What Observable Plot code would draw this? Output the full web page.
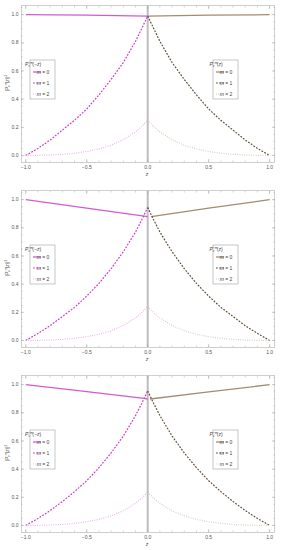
<!DOCTYPE html>
<html><head><meta charset="utf-8">
<script src="https://cdn.jsdelivr.net/npm/d3@7"></script>
<script src="https://cdn.jsdelivr.net/npm/@observablehq/plot@0.6"></script>
<style>html,body{margin:0;padding:0;background:#fff;overflow:hidden;} svg{display:block;}</style>
</head><body><div id="c"></div>
<script>
// ---- data ----
const zLeft  = [-1, -0.9, -0.8, -0.7, -0.6, -0.5, -0.4, -0.3, -0.2, -0.1, -0.05, 0];
const zRight = [0, 0.05, 0.1, 0.2, 0.3, 0.4, 0.5, 0.6, 0.7, 0.8, 0.9, 1];
const xTicks = [-1, -0.5, 0, 0.5, 1];
const yTicks = [0, 0.2, 0.4, 0.6, 0.8, 1.0];
const xMinor = [-1,-0.9,-0.8,-0.7,-0.6,-0.5,-0.4,-0.3,-0.2,-0.1,0,0.1,0.2,0.3,0.4,0.5,0.6,0.7,0.8,0.9,1];
const yMinor = [0,0.05,0.1,0.15,0.2,0.25,0.3,0.35,0.4,0.45,0.5,0.55,0.6,0.65,0.7,0.75,0.8,0.85,0.9,0.95,1,1.05];
const legendLabels = ["m = 0", "m = 1", "m = 2"];

// panel 1
const p1_m0_zL = [-1, -0.5, 0];     const p1_m0_L = [1.0, 0.996, 0.99];
const p1_m0_zR = [0, 0.5, 1];       const p1_m0_R = [0.99, 0.996, 1.0];
const p1_m1_L = [0, 0.05, 0.11, 0.18, 0.25, 0.33, 0.43, 0.54, 0.66, 0.81, 0.90, 0.99];
const p1_m1_R = [0.99, 0.90, 0.81, 0.66, 0.54, 0.43, 0.33, 0.25, 0.18, 0.11, 0.05, 0];
const p1_m2_L = [0, 0.001, 0.003, 0.008, 0.016, 0.028, 0.046, 0.072, 0.111, 0.167, 0.205, 0.25];
const p1_m2_R = [0.25, 0.205, 0.167, 0.111, 0.072, 0.046, 0.028, 0.016, 0.008, 0.003, 0.001, 0];
// panel 2
const p2_m0_zL = [-1, -0.5, 0];     const p2_m0_L = [1.0, 0.94, 0.88];
const p2_m0_zR = [0.03, 0.5, 1];    const p2_m0_R = [0.88, 0.94, 1.0];
const p2_m1_L = [0, 0.05, 0.105, 0.17, 0.235, 0.315, 0.405, 0.51, 0.63, 0.77, 0.855, 0.945];
const p2_m1_R = [0.945, 0.855, 0.77, 0.63, 0.51, 0.405, 0.315, 0.235, 0.17, 0.105, 0.05, 0];
const p2_m2_L = [0, 0.001, 0.003, 0.0075, 0.015, 0.027, 0.044, 0.069, 0.107, 0.16, 0.197, 0.24];
const p2_m2_R = [0.24, 0.197, 0.16, 0.107, 0.069, 0.044, 0.027, 0.015, 0.0075, 0.003, 0.001, 0];
// panel 3
const p3_m0_zL = [-1, -0.5, -0.03, 0]; const p3_m0_L = [1.0, 0.95, 0.902, 0.898];
const p3_m0_zR = [0.02, 0.5, 1];       const p3_m0_R = [0.898, 0.948, 1.0];
const p3_m1_L = [0, 0.05, 0.106, 0.17, 0.24, 0.318, 0.41, 0.515, 0.635, 0.78, 0.865, 0.955];
const p3_m1_R = [0.955, 0.865, 0.78, 0.635, 0.515, 0.41, 0.318, 0.24, 0.17, 0.106, 0.05, 0];
const p3_m2_L = [0, 0.001, 0.003, 0.0073, 0.015, 0.026, 0.043, 0.068, 0.104, 0.157, 0.193, 0.235];
const p3_m2_R = [0.235, 0.193, 0.157, 0.104, 0.068, 0.043, 0.026, 0.015, 0.0073, 0.003, 0.001, 0];

const leftColors  = ["#d35ad3", "#cc3ccc", "#eaa2ea"];
const rightColors = ["#a48b70", "#5e5038", "#d2c4b4"];
const dashes = [null, "1.8,1.4", "0.8,1.5"];
const widths = [1.3, 1.2, 1.2];

const panelSets = [
  [p1_m0_zL, p1_m0_L, p1_m0_zR, p1_m0_R, p1_m1_L, p1_m1_R, p1_m2_L, p1_m2_R],
  [p2_m0_zL, p2_m0_L, p2_m0_zR, p2_m0_R, p2_m1_L, p2_m1_R, p2_m2_L, p2_m2_R],
  [p3_m0_zL, p3_m0_L, p3_m0_zR, p3_m0_R, p3_m1_L, p3_m1_R, p3_m2_L, p3_m2_R]
];

const fmt = d3.format(".1f");
const FONT = "'Liberation Sans', 'DejaVu Sans', sans-serif";

function line(xs, ys, color, k) {
  return Plot.line(xs, {x: d => d, y: (d, i) => ys[i], stroke: color,
    strokeWidth: widths[k], strokeDasharray: dashes[k], strokeLinecap: "butt", curve: "linear"});
}

function drawPanel(set) {
  const [m0zL, m0L, m0zR, m0R, m1L, m1R, m2L, m2R] = set;
  const tickStroke = "#aaa";
  const plot = Plot.plot({
    width: 281, height: 185,
    marginLeft: 21, marginRight: 7, marginTop: 5, marginBottom: 23,
    style: {fontSize: "5px", fontFamily: FONT, background: "#fff", overflow: "visible"},
    x: {domain: [-1.035, 1.04]},
    y: {domain: [-0.05, 1.065]},
    marks: [
      Plot.ruleX([0], {stroke: "#bdbdbd", strokeWidth: 2}),
      Plot.frame({stroke: "#c4c4c4", strokeWidth: 0.8}),
      Plot.axisX(xMinor, {anchor: "bottom", tickSize: 1.5, dy: -1.5, tickFormat: () => "", stroke: tickStroke, strokeWidth: 0.5, label: null}),
      Plot.axisX(xMinor, {anchor: "top", tickSize: 1.5, dy: 1.5, tickFormat: () => "", stroke: tickStroke, strokeWidth: 0.5, label: null}),
      Plot.axisX(xTicks, {anchor: "bottom", tickSize: 3, dy: -3, tickFormat: () => "", stroke: tickStroke, strokeWidth: 0.6, label: null}),
      Plot.axisX(xTicks, {anchor: "top", tickSize: 3, dy: 3, tickFormat: () => "", stroke: tickStroke, strokeWidth: 0.6, label: null}),
      Plot.axisX(xTicks, {anchor: "bottom", tickSize: 0, tickPadding: 3, tickFormat: fmt, fill: "#555", label: null}),
      Plot.axisY(yMinor, {anchor: "left", tickSize: 1.5, dx: 1.5, tickFormat: () => "", stroke: tickStroke, strokeWidth: 0.5, label: null}),
      Plot.axisY(yMinor, {anchor: "right", tickSize: 1.5, dx: -1.5, tickFormat: () => "", stroke: tickStroke, strokeWidth: 0.5, label: null}),
      Plot.axisY(yTicks, {anchor: "left", tickSize: 3, dx: 3, tickFormat: () => "", stroke: tickStroke, strokeWidth: 0.6, label: null}),
      Plot.axisY(yTicks, {anchor: "right", tickSize: 3, dx: -3, tickFormat: () => "", stroke: tickStroke, strokeWidth: 0.6, label: null}),
      Plot.axisY(yTicks, {anchor: "left", tickSize: 0, tickPadding: 3, tickFormat: fmt, fill: "#555", label: null}),
      line(m0zL, m0L, leftColors[0], 0),
      line(m0zR, m0R, rightColors[0], 0),
      line(zLeft, m1L, leftColors[1], 1),
      line(zRight, m1R, rightColors[1], 1),
      line(zLeft, m2L, leftColors[2], 2),
      line(zRight, m2R, rightColors[2], 2)
    ]
  });
  const svg = d3.select(plot);
  const fs = 5;
  // x label
  svg.append("text").attr("x", 147).attr("y", 176).attr("text-anchor", "middle")
    .attr("font-size", fs).attr("font-style", "italic").attr("font-family", FONT).attr("fill", "#444").text("z");
  // y label
  const yl = svg.append("text").attr("transform", "translate(9,83) rotate(-90)")
    .attr("text-anchor", "middle").attr("font-size", 4.6).attr("font-family", FONT).attr("fill", "#444");
  yl.append("tspan").text("|");
  yl.append("tspan").attr("font-style", "italic").text("P");
  yl.append("tspan").attr("font-size", 3.2).attr("dy", -1.8).text("−m");
  yl.append("tspan").attr("font-size", 3.2).attr("font-style", "italic").attr("dx", -4.6).attr("dy", 3.2).text("ν");
  yl.append("tspan").attr("dy", -1.4).attr("dx", 2.2).text("(");
  yl.append("tspan").attr("font-style", "italic").text("z");
  yl.append("tspan").text(")|");
  yl.append("tspan").attr("font-size", 3.2).attr("dy", -1.8).text("2");

  function legend(x0, arg, colors) {
    const g = svg.append("g").attr("font-family", FONT).attr("fill", "#444");
    g.append("rect").attr("x", x0).attr("y", 60).attr("width", 25).attr("height", 39)
      .attr("fill", "#fff").attr("stroke", "#b8b8b8").attr("stroke-width", 0.8);
    const t = g.append("text").attr("x", x0 + 3).attr("y", 66).attr("font-size", fs);
    t.append("tspan").attr("font-style", "italic").text("P");
    t.append("tspan").attr("font-size", 3.4).attr("dy", -1.9).text("−m");
    t.append("tspan").attr("font-size", 3.4).attr("font-style", "italic").attr("dx", -4.9).attr("dy", 3.3).text("ν");
    t.append("tspan").attr("dy", -1.4).attr("dx", 2.4).text("(");
    t.append("tspan").attr("font-style", "italic").text(arg);
    t.append("tspan").text(")");
    legendLabels.forEach((lab, k) => {
      const yy = 72 + k * 11;
      g.append("line").attr("x1", x0 + 3).attr("x2", x0 + 11).attr("y1", yy).attr("y2", yy)
        .attr("stroke", colors[k]).attr("stroke-width", widths[k]).attr("stroke-dasharray", dashes[k]);
      const tx = g.append("text").attr("x", x0 + 13).attr("y", yy + 1.7).attr("font-size", fs);
      tx.append("tspan").attr("font-style", "italic").text("m");
      tx.append("tspan").text(lab.slice(1));
    });
  }
  legend(30, "−z", leftColors);
  legend(213, "z", rightColors);
  return plot;
}

const c = document.getElementById("c");
panelSets.forEach(s => c.appendChild(drawPanel(s)));
</script>
</body></html>
